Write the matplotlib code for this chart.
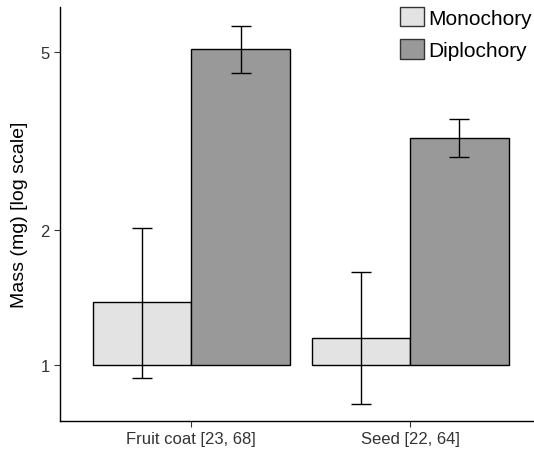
import numpy as np
import matplotlib.pyplot as plt
from matplotlib.patches import Patch
from matplotlib.ticker import FixedLocator, NullLocator, FixedFormatter

plt.rcParams['font.family'] = ['Liberation Sans', 'DejaVu Sans']

categories = ['Fruit coat [23, 68]', 'Seed [22, 64]']
groups = ['Monochory', 'Diplochory']
colors = ['#e3e3e3', '#999999']

# mean mass and error bar ends (mg)
mass = {'Monochory': [1.38, 1.15], 'Diplochory': [5.07, 3.21]}
low = {'Monochory': [0.935, 0.818], 'Diplochory': [4.48, 2.91]}
high = {'Monochory': [2.02, 1.61], 'Diplochory': [5.71, 3.54]}

fig = plt.figure(figsize=(5.34, 4.52), dpi=100)
ax = fig.add_axes([60 / 534, 30 / 452, 1 - 60 / 534, 414 / 452])

x = np.arange(1, len(categories) + 1)
width = 0.45
for i, g in enumerate(groups):
    xs = x + (i - 0.5) * width
    vals = np.array(mass[g])
    ax.bar(xs, vals - 1, bottom=1, width=width, color=colors[i],
           edgecolor='black', linewidth=1.0, zorder=2)
    yerr = [vals - np.array(low[g]), np.array(high[g]) - vals]
    ax.errorbar(xs, vals, yerr=yerr, fmt='none', ecolor='black',
                elinewidth=1.0, capsize=7.5, capthick=1.0, zorder=3)

ax.set_yscale('log')
ax.set_ylim(0.75, 6.3)
ax.set_xlim(0.4, 2.566)
ax.yaxis.set_major_locator(FixedLocator([1, 2, 5]))
ax.yaxis.set_major_formatter(FixedFormatter(['1', '2', '5']))
ax.yaxis.set_minor_locator(NullLocator())
ax.set_xticks(x)
ax.set_xticklabels(categories)
ax.tick_params(axis='both', labelsize=12, labelcolor='#333333', length=4,
               width=0.8, color='#333333')
ax.set_ylabel('Mass (mg) [log scale]', fontsize=14, labelpad=9)

for s in ['top', 'right']:
    ax.spines[s].set_visible(False)
for s in ['left', 'bottom']:
    ax.spines[s].set_linewidth(1.0)

handles = [Patch(facecolor=colors[i], edgecolor='#333333', linewidth=1.0,
                 label=g) for i, g in enumerate(groups)]
ax.legend(handles=handles, loc='upper right', bbox_to_anchor=(1.018, 1.025),
          frameon=False, fontsize=15, handlelength=1.15, handleheight=1.05,
          handletextpad=0.2, labelspacing=0.55, borderaxespad=0.1)

fig.savefig('out.png', dpi=100)
